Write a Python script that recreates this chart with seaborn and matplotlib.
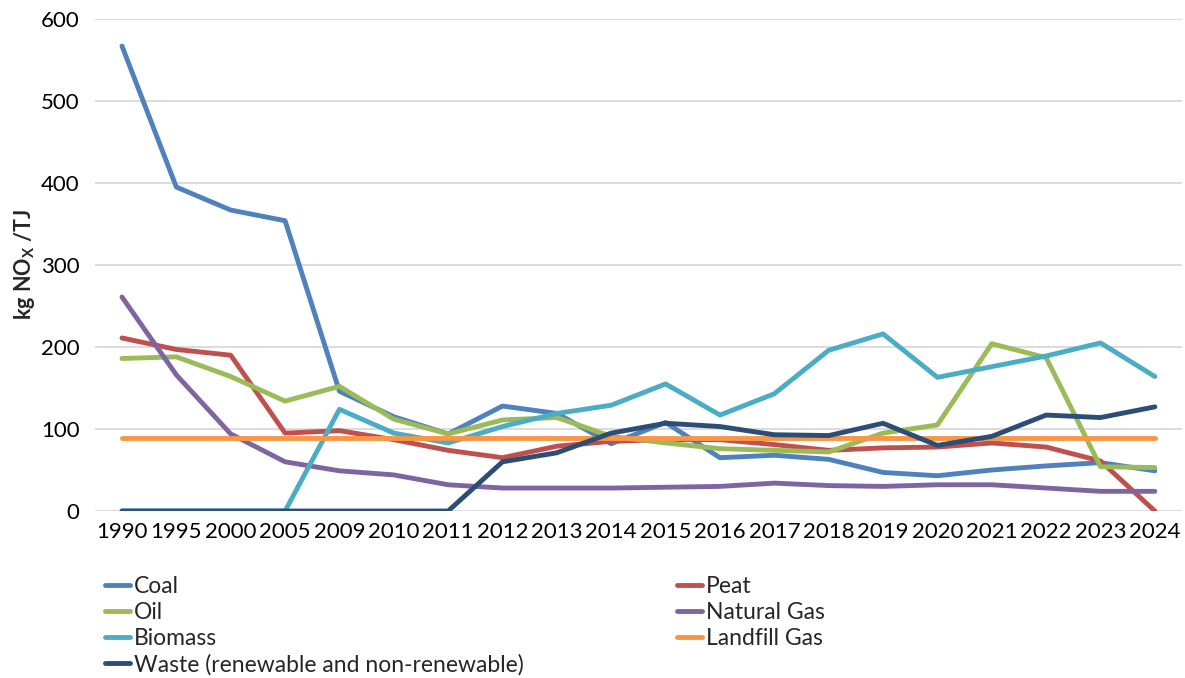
import pandas as pd
import matplotlib
matplotlib.use("Agg")
import matplotlib.pyplot as plt
import seaborn as sns

# categories (years) and NOx emission factors per fuel
years = ["1990", "1995", "2000", "2005", "2009", "2010", "2011", "2012", "2013", "2014",
         "2015", "2016", "2017", "2018", "2019", "2020", "2021", "2022", "2023", "2024"]

coal = [567, 395, 367, 354, 146, 115, 94, 128, 119, 82, 108, 65, 68, 63, 47, 43, 50, 55, 59, 49]
peat = [211, 197, 190, 95, 98, 87, 74, 65, 79, 85, 87, 87, 81, 74, 77, 78, 83, 78, 61, 0]
oil = [186, 188, 164, 134, 152, 112, 94, 111, 114, 91, 83, 76, 74, 72, 95, 105, 204, 187, 54, 53]
natural_gas = [261, 166, 94, 60, 49, 44, 32, 28, 28, 28, 29, 30, 34, 31, 30, 32, 32, 28, 24, 24]
biomass = [0, 0, 0, 0, 124, 95, 83, 103, 119, 129, 155, 117, 143, 196, 216, 163, 176, 189, 205, 164]
landfill_gas = [89] * 20
waste = [0, 0, 0, 0, 0, 0, 0, 60, 71, 95, 107, 103, 93, 92, 107, 80, 91, 117, 114, 127]

series_names = ["Coal", "Peat", "Oil", "Natural Gas", "Biomass", "Landfill Gas",
                "Waste (renewable and non-renewable)"]
series_values = [coal, peat, oil, natural_gas, biomass, landfill_gas, waste]
colors = ["#4F81BD", "#C0504D", "#9BBB59", "#8064A2", "#4BACC6", "#F79646", "#2C4D75"]

sns.set_style("white")
plt.rcParams["font.family"] = ["Lato", "DejaVu Sans"]

fig = plt.figure(figsize=(11.85, 6.78), dpi=100)
ax = fig.add_axes([0.080, 0.2463, 0.9175, 0.7257])

for name, vals, col in zip(series_names, series_values, colors):
    df = pd.DataFrame({"year": years, "value": vals})
    sns.lineplot(data=df, x="year", y="value", ax=ax, color=col, linewidth=3.5,
                 label=name, solid_capstyle="round", solid_joinstyle="round")

ax.set_xlim(-0.5, len(years) - 0.5)
ax.set_ylim(0, 600)
ax.set_yticks(range(0, 601, 100))
ax.grid(axis="y", color="#D9D9D9", linewidth=1.3)
ax.set_axisbelow(True)
for s in ax.spines.values():
    s.set_visible(False)
ax.tick_params(axis="both", length=0, labelsize=16, colors="#000000")
ax.tick_params(axis="y", pad=11)
ax.tick_params(axis="x", pad=8)
ax.set_xlabel("")
ax.set_ylabel(r"kg NO$_\mathregular{X}$ /TJ", fontsize=15.5, fontweight="bold", labelpad=3)

ax.get_legend().remove()
handles, labels = ax.get_legend_handles_labels()
order = [0, 2, 4, 6, 1, 3, 5]
fig.legend([handles[i] for i in order], [labels[i] for i in order],
           loc="upper left", bbox_to_anchor=(0.0886, 0.151), ncol=2, frameon=False,
           fontsize=16.5, handlelength=1.1, handletextpad=0.15, columnspacing=6.7,
           labelspacing=0.22, borderaxespad=0, borderpad=0)

fig.savefig("out.png", dpi=100)
